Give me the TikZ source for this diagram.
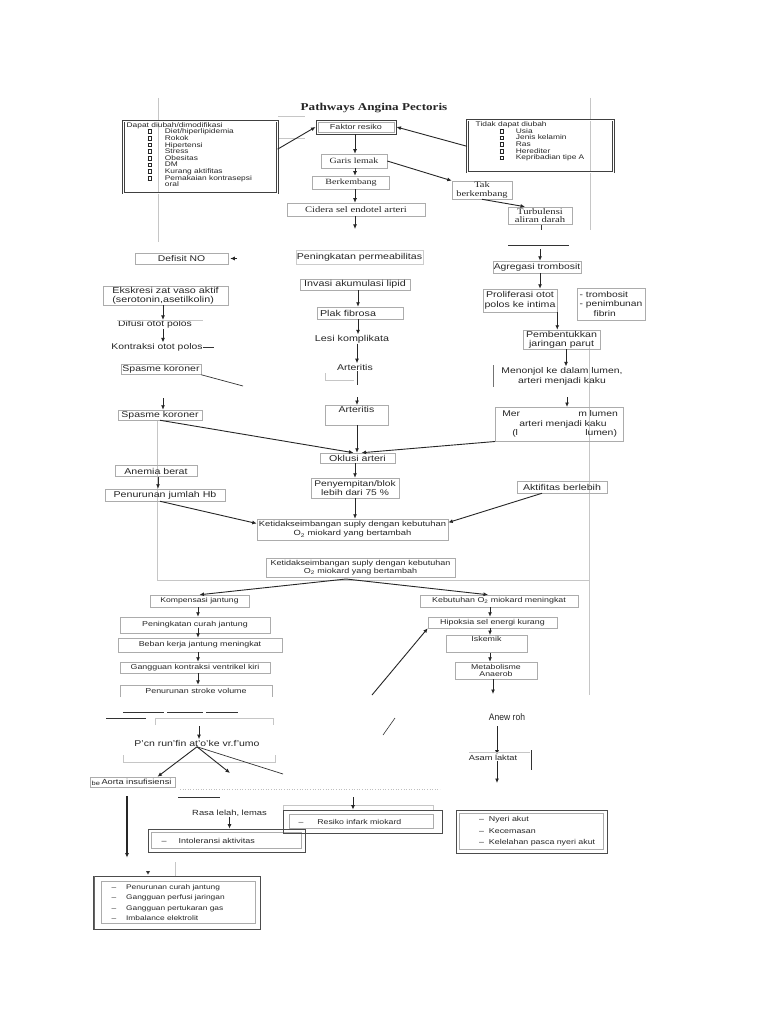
\documentclass[tikz,border=0pt]{standalone}
\usepackage{fontspec}
\setmainfont{Liberation Sans}[FakeStretch=1.25]
\newfontfamily\serifw{Liberation Serif}[FakeStretch=1.25]
\newfontfamily\condf{Liberation Sans}[FakeStretch=0.9]
\usetikzlibrary{arrows.meta}
\newcommand{\fsz}[2]{\fontsize{#1}{#2}\selectfont}
\newcommand{\cbx}{\raisebox{0.15ex}{\setlength{\fboxsep}{0pt}\setlength{\fboxrule}{0.5pt}\fbox{\rule{0pt}{3.2pt}\rule{3.2pt}{0pt}}}}
\begin{document}
\begin{tikzpicture}[x=1pt,y=-1pt,
  bx/.style={draw=gray!65, line width=0.5pt, inner sep=1pt, text=black!85},
  dbx/.style={draw=black!75, line width=0.6pt, double=white, double distance=1.2pt, inner sep=1pt, text=black!85},
  obx/.style={draw=black!70, line width=0.8pt, inner sep=2pt, align=left, text=black!85},
  arr/.style={-{Latex[length=4.5pt,width=4pt]}, line width=0.9pt, black!85},
  ln/.style={line width=0.7pt, black!80},
  faint/.style={gray!45, line width=0.5pt},
  txt/.style={inner sep=0.5pt, text=black!85}]
\fill[white] (0,0) rectangle (768,1024);
\useasboundingbox (0,0) rectangle (768,1024);

% ---------- frame lines
\draw[faint] (158,98) -- (158,242);
\draw[faint] (590,98) -- (590,230);
\draw[faint] (278,116) -- (305,116);
\draw[faint] (278,138) -- (305,138);
\draw[faint] (157,420) -- (157,580) -- (589,580);
\draw[faint] (589,345) -- (589,695);

% ---------- title
\node[font={\serifw\bfseries\fsz{10.5}{12}}, text=black!85] (title) at (374,108) {Pathways Angina Pectoris};

% ---------- top boxes
\node[dbx, minimum width=154, minimum height=72, anchor=north west] (dapat) at (123,121) {};
\node[txt, anchor=north west, align=left, font={\fsz{6.7}{6.65}}] (dapatT) at (126,121.5) {Dapat diubah/dimodifikasi\\
\hspace*{21pt}\cbx\hspace{13pt}Diet/hiperlipidemia\\
\hspace*{21pt}\cbx\hspace{13pt}Rokok\\
\hspace*{21pt}\cbx\hspace{13pt}Hipertensi\\
\hspace*{21pt}\cbx\hspace{13pt}Stress\\
\hspace*{21pt}\cbx\hspace{13pt}Obesitas\\
\hspace*{21pt}\cbx\hspace{13pt}DM\\
\hspace*{21pt}\cbx\hspace{13pt}Kurang aktifitas\\
\hspace*{21pt}\cbx\hspace{13pt}Pemakaian kontrasepsi\\
\hspace*{21pt}\phantom{\cbx}\hspace{13pt}oral};

\node[dbx, minimum width=146, minimum height=52, anchor=north west] (tidak) at (467,120) {};
\node[txt, anchor=north west, align=left, font={\fsz{6.7}{6.65}}] (tidakT) at (475,121) {Tidak dapat diubah\\
\hspace*{24pt}\cbx\hspace{12pt}Usia\\
\hspace*{24pt}\cbx\hspace{12pt}Jenis kelamin\\
\hspace*{24pt}\cbx\hspace{12pt}Ras\\
\hspace*{24pt}\cbx\hspace{12pt}Herediter\\
\hspace*{24pt}\cbx\hspace{12pt}Kepribadian tipe A};

\node[draw=black!75, line width=0.9pt, minimum width=80, minimum height=14, inner sep=1pt, text=black!85, font={\fsz{7.2}{8}}] (faktor) at (356,127) {Faktor resiko};
\draw[gray!65, line width=0.5pt] ([shift={(2.5,2.5)}]faktor.north west) rectangle ([shift={(-2.5,-2.5)}]faktor.south east);
\node[bx, font={\serifw\fsz{8}{8.5}}, minimum width=66, minimum height=14] (garis) at (354,161) {Garis lemak};
\node[bx, font={\serifw\fsz{8}{8.5}}, minimum width=77, minimum height=13] (berk) at (351,182.5) {Berkembang};
\node[bx, font={\serifw\fsz{8.5}{8.5}}, minimum width=138, minimum height=13] (cidera) at (356,209.5) {Cidera sel endotel arteri};
\node[bx, font={\serifw\fsz{8.3}{8.5}}, minimum width=60, minimum height=18, align=center] (takb) at (482,190) {Tak\\berkembang};
\node[bx, font={\serifw\fsz{8.5}{8.5}}, minimum width=64, minimum height=17, align=center] (turb) at (540,215.5) {Turbulensi\\aliran darah};

\coordinate (cA) at (355,0);
\draw[arr] (dapat.6) -- (faktor.west);
\draw[arr] (tidak.west) -- (faktor.east);
\draw[arr] (cA |- faktor.south) -- (cA |- garis.north);
\draw[arr] (cA |- garis.south) -- (cA |- berk.north);
\draw[arr] (cA |- berk.south) -- (cA |- cidera.north);
\coordinate (cidEnd) at (355,229);
\draw[arr] (cA |- cidera.south) -- (cidEnd);
\draw[arr] (garis.east) -- (takb.north west);
\draw[arr] (takb.south) -- ([xshift=-15]turb.north);
\draw[ln] (541,225) -- (541,230);

% ---------- left column
\node[bx, minimum width=93, minimum height=11, font={\fsz{8.3}{9}}] (defisit) at (181.5,258.5) {Defisit NO};
\coordinate (defTip) at (237,258.5);
\draw[arr] (defTip) -- ([xshift=2]defisit.east);
\node[bx, minimum width=125, minimum height=18, align=left, font={\fsz{8.6}{8.8}}] (ekskresi) at (165.5,295.5) {Ekskresi zat vaso aktif\\(serotonin,asetilkolin)};
\coordinate (cL) at (163,0);
\node[txt, font={\fsz{8.3}{9}}] (difusi) at (155,324.5) {Difusi otot polos};
\draw[faint] (117,320) -- (203,320);
\node[txt, font={\fsz{8.3}{9}}] (kontraksi) at (157,347) {Kontraksi otot polos};
\draw[ln] (kontraksi.east) -- ++(11,0);
\draw[arr] (cL |- ekskresi.south) -- (cL |- difusi.north);
\draw[arr] (cL |- difusi.south) -- (cL |- kontraksi.north);
\node[bx, minimum width=80, minimum height=10, font={\fsz{8.4}{9}}] (spasme1) at (161,369.5) {Spasme koroner};
\coordinate (sp1end) at (243,386);
\draw[ln] (spasme1.south east) -- (sp1end);
\node[bx, minimum width=84, minimum height=10, font={\fsz{8.4}{9}}] (spasme2) at (160,415) {Spasme koroner};
\coordinate (sp2a) at (163,398);
\draw[arr] (sp2a) -- (sp2a |- spasme2.north);

% ---------- centre column
\node[bx, draw=gray!40, minimum width=127, minimum height=14, font={\fsz{8.5}{9}}] (perm) at (359.5,257) {Peningkatan permeabilitas};
\node[bx, minimum width=110, minimum height=11, font={\fsz{8.6}{9}}] (invasi) at (355,284.5) {Invasi akumulasi lipid};
\node[bx, minimum width=86, minimum height=12, text width=80, align=left, font={\fsz{8.6}{9}}] (plak) at (360,313) {Plak fibrosa};
\node[txt, font={\fsz{8.6}{9}}] (lesi) at (352,339) {Lesi komplikata};
\node[txt, font={\fsz{8.4}{9}}] (art1) at (355,367) {Arteritis};
\node[bx, anchor=north, minimum width=63, text height=6.2pt, text depth=10.5pt, inner sep=1.5pt, font={\fsz{8.4}{9}}] (art2) at (356.5,405) {Arteritis};
\coordinate (cC) at (358,0);
\coordinate (cD) at (357,0);
\draw[arr] (cC |- invasi.south) -- (cC |- plak.north);
\draw[arr] (cC |- plak.south) -- (cC |- lesi.north);
\draw[arr] (cD |- lesi.south) -- (cD |- art1.north);
\draw[faint] (325,373) -- (325,380) -- (354,380);
\draw[ln] (cD |- art1.south) -- (357,385);
\coordinate (ar2a) at (357,397);
\draw[arr] (ar2a) -- (ar2a |- art2.north);

\node[bx, minimum width=75, minimum height=10, font={\fsz{8.5}{9}}] (oklusi) at (357.5,458) {Oklusi arteri};
\draw[arr] (cD |- art2.south) -- (cD |- oklusi.north);
\draw[arr] (spasme2.south) -- ([xshift=-4]oklusi.north);
\node[bx, minimum width=88, minimum height=20, align=center, font={\fsz{8.2}{9}}] (peny) at (355,488) {Penyempitan/blok\\lebih dari 75 \%};
\node[bx, minimum width=191, minimum height=21, align=center, font={\fsz{7.5}{9}}] (ket1) at (352.5,529.5) {Ketidakseimbangan suply dengan kebutuhan\\O\textsubscript{2} miokard yang bertambah};
\draw[arr] (cA |- oklusi.south) -- (cA |- peny.north);
\draw[arr] (cA |- peny.south) -- (cA |- ket1.north);

\node[bx, minimum width=82, minimum height=11, font={\fsz{8.5}{9}}] (anemia) at (156,471) {Anemia berat};
\node[bx, minimum width=120, minimum height=12, font={\fsz{8.5}{9}}] (hb) at (165,495) {Penurunan jumlah Hb};
\coordinate (cE) at (158,0);
\draw[arr] (cE |- anemia.south) -- (cE |- hb.north);
\draw[arr] ([xshift=-5]hb.south) -- ([yshift=6pt]ket1.west);
\node[bx, minimum width=90, minimum height=12, font={\fsz{8.5}{9}}] (akt) at (562,487) {Aktifitas berlebih};
\draw[arr] ([xshift=-20]akt.south) -- ([yshift=7pt]ket1.east);

% ---------- right column
\draw[ln] (508,245) -- (569,245);
\node[bx, minimum width=88, minimum height=12, font={\fsz{8.3}{9}}] (agr) at (537,267) {Agregasi trombosit};
\coordinate (ag0) at (540,249);
\draw[arr] (ag0) -- (ag0 |- agr.north);
\node[bx, minimum width=74, minimum height=23, align=center, font={\fsz{8.5}{9.5}}] (prol) at (520,300.5) {Proliferasi otot\\polos ke intima};
\draw[arr] (ag0 |- agr.south) -- (ag0 |- prol.north);
\node[bx, minimum width=68, minimum height=32, align=left, font={\fsz{8.2}{9.6}}] (trom) at (611,304) {- trombosit\\- penimbunan\\\hspace*{14pt}fibrin};
\node[bx, minimum width=77, minimum height=19, align=center, font={\fsz{8.5}{9}}] (pemb) at (561.5,339.5) {Pembentukkan\\jaringan parut};
\draw[arr] (prol.south east) -- (prol.south east |- pemb.north);
\node[txt, align=center, font={\fsz{8.3}{10}}] (mon1) at (562,376) {Menonjol ke dalam lumen,\\arteri menjadi kaku};
\coordinate (cR) at (566,0);
\draw[arr] (cR |- pemb.south) -- (cR |- mon1.north);
\draw[ln, black!55] (493,365) -- (493,387);
\node[bx, anchor=north west, minimum width=128, minimum height=34, text width=126, align=left, font={\fsz{8.3}{9.5}}] (mon2) at (495,407) {\hspace*{6pt}\rlap{Mer}\hspace{76pt}m lumen\\\hspace*{23pt}arteri menjadi kaku\\\hspace*{16pt}\rlap{(l}\hspace{73pt}lumen)};
\coordinate (mn2a) at (567,397);
\draw[arr] (mn2a) -- (mn2a |- mon2.north);
\draw[arr] (mon2.south west) -- ([xshift=4]oklusi.north);

% ---------- lower section
\node[bx, minimum width=189, minimum height=19, align=center, font={\fsz{7.2}{8.5}}] (ket2) at (360.5,567.5) {Ketidakseimbangan suply dengan kebutuhan\\O\textsubscript{2} miokard yang bertambah};
\node[bx, minimum width=99, minimum height=12, font={\fsz{6.9}{8}}] (komp) at (199.5,601) {Kompensasi jantung};
\node[bx, minimum width=158, minimum height=12, font={\fsz{7.1}{8}}] (keb) at (499,601) {Kebutuhan O\textsubscript{2} miokard meningkat};
\coordinate (k2out) at (346,579);
\draw[arr] (k2out) -- (komp.north);
\draw[arr] (k2out) -- ([xshift=-11]keb.north);

\node[bx, minimum width=150, minimum height=16, font={\fsz{7.1}{8}}] (pcj) at (195,625) {Peningkatan curah jantung};
\node[bx, minimum width=164, minimum height=14, font={\fsz{7.1}{8}}] (bkj) at (200,645) {Beban kerja jantung meningkat};
\node[bx, minimum width=150, minimum height=11, font={\fsz{7.1}{8}}] (gkv) at (195,667.5) {Gangguan kontraksi ventrikel kiri};
\node[txt, minimum width=152, minimum height=12, font={\fsz{7.1}{8}}] (psv) at (196,691) {Penurunan stroke volume};
\draw[gray!65, line width=0.5pt] (psv.south west) -- (psv.north west) -- (psv.north east) -- (psv.south east);
\coordinate (cK) at (198,0);
\coordinate (a3) at (198,628);
\draw[arr] (cK |- komp.south) -- (cK |- pcj.north);
\draw[arr] (a3) -- (a3 |- bkj.north);
\draw[arr] (cK |- bkj.south) -- (cK |- gkv.north);
\draw[arr] (cK |- gkv.south) -- (cK |- psv.north);

\node[bx, minimum width=129, minimum height=11, font={\fsz{7.1}{8}}] (hip) at (492.5,622.5) {Hipoksia sel energi kurang};
\node[bx, anchor=north, minimum width=81, text height=5pt, text depth=9pt, inner sep=1.5pt, font={\fsz{7.1}{8}}] (isk) at (486.5,635) {Iskemik};
\node[bx, minimum width=82, minimum height=17, align=center, font={\fsz{7}{7.8}}] (met) at (496,670.5) {Metabolisme\\Anaerob};
\coordinate (cM) at (490,0);
\draw[arr] (cM |- keb.south) -- (cM |- hip.north);
\draw[arr] (cM |- hip.south) -- (cM |- isk.north);
\draw[arr] (cM |- isk.south) -- (cM |- met.north);
\coordinate (metEnd) at (493,694);
\draw[arr] (met.south -| metEnd) -- (metEnd);
\coordinate (hipIn) at (372,695);
\draw[arr] (hipIn) -- (hip.south west);

\node[txt, font={\condf\fsz{9.5}{10}}] (anew) at (507,717) {Anew roh};
\node[txt, font={\fsz{7.4}{8}}] (asam) at (493,758) {Asam laktat};
\coordinate (cN) at (497,0);
\draw[arr, shorten <=5pt] (cN |- anew.south) -- (cN |- asam.north);
\draw[faint] (469,752) -- (530,752);
\draw[ln] (531,750) -- (531,770);
\coordinate (asEnd) at (497,783);
\draw[arr] (cN |- asam.south) -- (asEnd);
\draw[ln, line width=0.6pt] (383,735) -- (395,718);

% ---------- lower left
\draw[ln, line width=0.8pt] (123,712) -- (164,712) (167,712) -- (203,712) (206,712) -- (238,712) (106,718) -- (146,718);
\draw[faint] (155,725) -- (155,718) -- (273,718) -- (273,725);
\node[txt, font={\fsz{8.4}{9}}] (pcn) at (197,743) {P'cn run'fin at'o'ke vr.f'umo};
\coordinate (pc0) at (199,726);
\draw[arr] (pc0) -- (pc0 |- pcn.north);
\draw[faint] (123,755) -- (123,762) -- (275,762) -- (275,755);
\node[bx, minimum width=85, minimum height=10, font={\fsz{7.4}{8}}] (aorta) at (132.5,782) {\hspace*{8pt}Aorta insufisiensi};
\node[txt, font={\fsz{6}{6}}, anchor=west] (beT) at (91,783) {be};
\coordinate (pc2) at (230,773);
\coordinate (pc3) at (283,774);
\draw[arr] (pcn.south) -- ([xshift=25]aorta.north);
\draw[arr] (pcn.south) -- (pc2);
\draw[ln] (pcn.south) -- (pc3);

\draw[ln, line width=0.9pt] (178,797) -- (220,797);
\draw[gray!50, dotted, line width=0.6pt] (180,789) -- (440,789);
\node[txt, font={\fsz{7.5}{8}}] (rasa) at (229.5,813) {Rasa lelah, lemas};
\node[obx, minimum width=157, minimum height=23, text width=150, font={\fsz{7.2}{8}}] (intol) at (226.5,840.5) {\hspace*{10pt}--\hspace{12pt}Intoleransi aktivitas};
\draw[gray!65, line width=0.5pt] ([shift={(4,4)}]intol.north west) rectangle ([shift={(-4,-4)}]intol.south east);
\draw[arr] (rasa.south) -- (rasa.south |- intol.north);

\draw[faint] (283,811) -- (283,805) -- (433,805) -- (433,811);
\node[obx, minimum width=159, minimum height=23, text width=152, font={\fsz{7}{8}}] (resiko) at (362.5,821.5) {\hspace*{12pt}--\hspace{14pt}Resiko infark miokard};
\draw[gray!65, line width=0.5pt] ([shift={(7,5)}]resiko.north west) rectangle ([shift={(-9,-5)}]resiko.south east);
\coordinate (ri0) at (353,797);
\draw[arr] (ri0) -- (ri0 |- resiko.north);

\node[obx, minimum width=151, minimum height=43, text width=145, font={\fsz{7.1}{11.5}}] (nyeri) at (531.5,831.5) {\hspace*{20pt}--\hspace{5pt}Nyeri akut\\\hspace*{20pt}--\hspace{5pt}Kecemasan\\\hspace*{20pt}--\hspace{5pt}Kelelahan pasca nyeri akut};
\draw[gray!65, line width=0.5pt] ([shift={(4,4)}]nyeri.north west) rectangle ([shift={(-4,-4)}]nyeri.south east);

\node[obx, minimum width=167, minimum height=53, text width=160, font={\fsz{6.7}{10.4}}] (pbox) at (176.5,902.5) {\hspace*{15pt}--\hspace{10pt}Penurunan curah jantung\\\hspace*{15pt}--\hspace{10pt}Gangguan perfusi jaringan\\\hspace*{15pt}--\hspace{10pt}Gangguan pertukaran gas\\\hspace*{15pt}--\hspace{10pt}Imbalance elektrolit};
\draw[gray!65, line width=0.5pt] ([shift={(9,6)}]pbox.north west) rectangle ([shift={(-5,-6)}]pbox.south east);
\draw[black!60, line width=1.2pt] (94.5,876) -- (94.5,929);
\coordinate (ao1) at (127,796);
\draw[arr, line width=1.3pt, shorten >=18pt] (ao1) -- (ao1 |- pbox.north);
\fill[black!80] (146,871) -- (150,871) -- (148,874.5) -- cycle;
\draw[faint] (175,862) -- (175,876);
\end{tikzpicture}
\end{document}
